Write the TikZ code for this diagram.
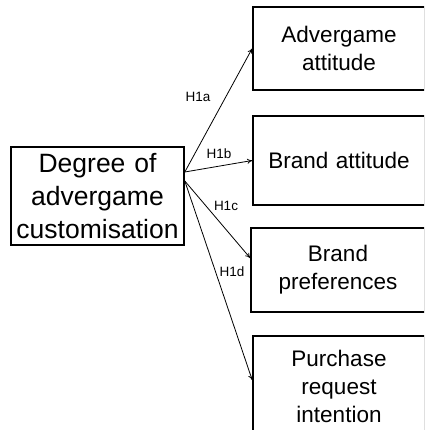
\documentclass[tikz,border=0pt]{standalone}
\usepackage{fontspec}
\setmainfont{Liberation Sans}
\usetikzlibrary{arrows.meta}
\begin{document}
\begin{tikzpicture}[x=1pt,y=-1pt,
  box/.style={draw,line width=1.6pt,inner sep=0pt,align=center,
    text width=170pt,minimum width=172pt},
  bigtext/.style={font=\fontsize{26.5}{33}\selectfont},
  smalltext/.style={font=\fontsize{22.5}{28}\selectfont},
  link/.style={line width=0.8pt,-{To[length=5pt,width=5pt]}},
  hyp/.style={font=\fontsize{13.5}{15}\selectfont,inner sep=0pt}]
\useasboundingbox (0,0) rectangle (424,430);
\clip (0,0) rectangle (424,430);
% source construct
\node[box,bigtext,text width=171pt,minimum width=173pt,minimum height=98pt]
  (src) at (97.5,196) {Degree of\\advergame\\customisation};
% outcome constructs (right edges run past the frame)
\node[box,smalltext,minimum height=83pt]  (att)  at (339,48.5)  {Advergame\\attitude};
\node[box,smalltext,minimum height=89pt]  (brand) at (339,160.5) {Brand attitude};
\node[box,smalltext,minimum width=174pt,minimum height=84pt] (pref) at (338,270) {Brand\\preferences};
\node[box,smalltext,minimum height=100pt] (buy)  at (339,386)   {Purchase\\request\\intention};
% hypothesised paths
\coordinate (s1) at ([yshift=24pt]src.east);
\coordinate (s2) at ([yshift=15pt]src.east);
\draw[link] (s1) -- (att.west);
\draw[link] (s1) -- (brand.west);
\draw[link] (s2) -- ([yshift=12pt]pref.west);
\draw[link] (s2) -- ([yshift=6pt]buy.west);
% path labels
\node[hyp] (h1a) at (198,97)  {H1a};
\node[hyp] (h1b) at (219,154) {H1b};
\node[hyp] (h1c) at (226,206) {H1c};
\node[hyp] (h1d) at (232,272) {H1d};
\end{tikzpicture}
\end{document}
